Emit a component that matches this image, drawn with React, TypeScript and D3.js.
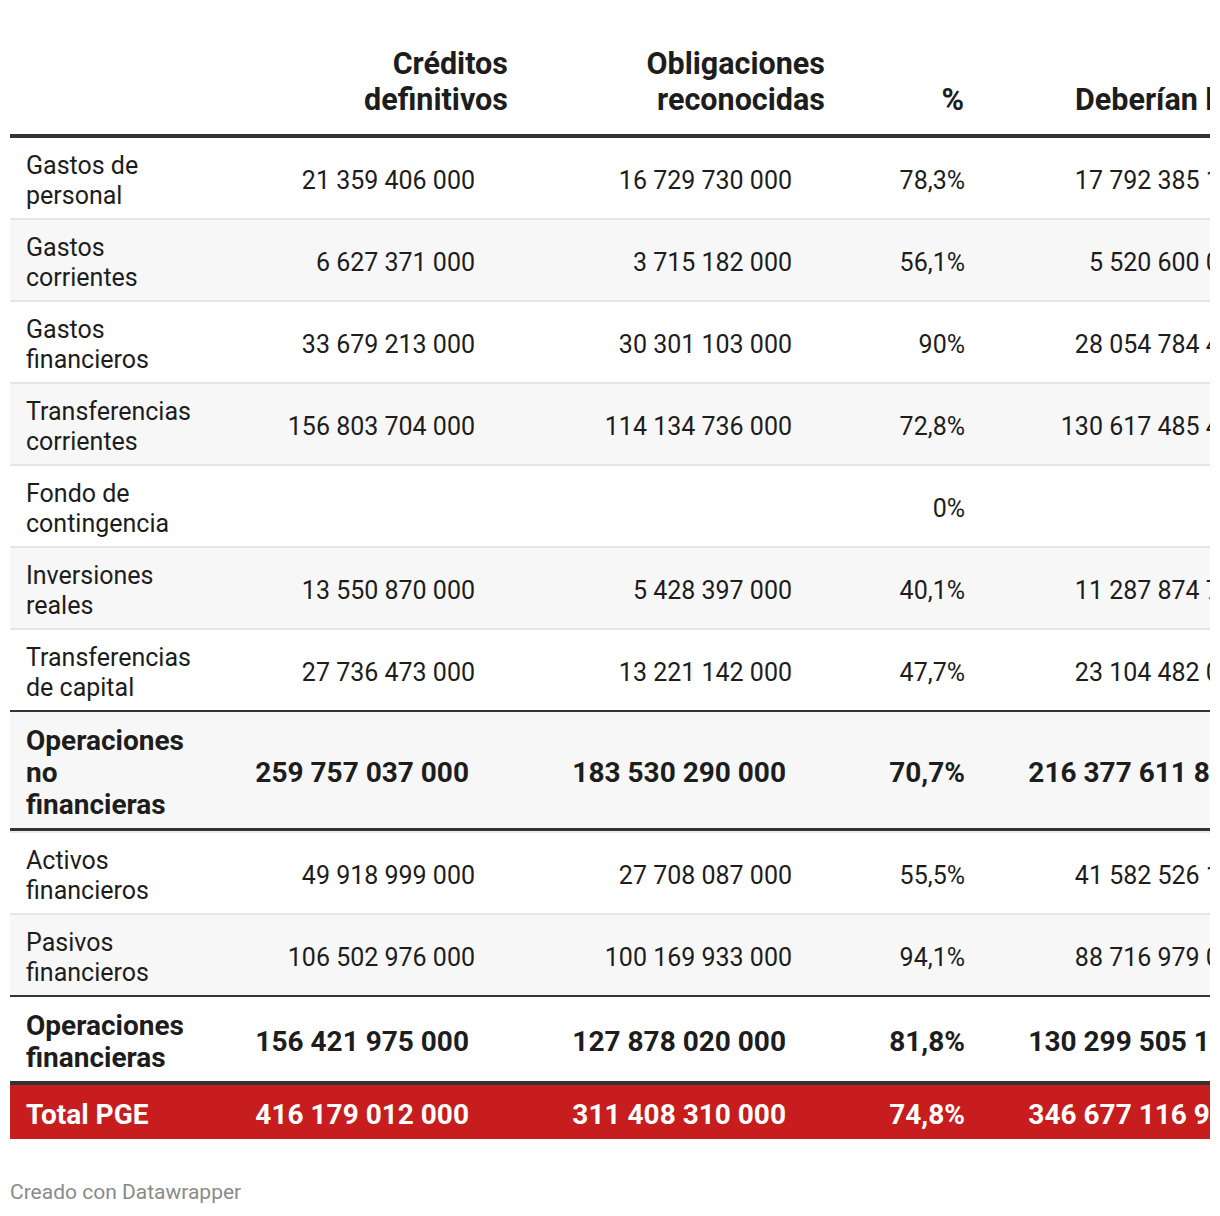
import { useEffect } from 'react';
import * as d3 from 'd3';

// Table data (euros)
const categories = [
  'Gastos de personal',
  'Gastos corrientes',
  'Gastos financieros',
  'Transferencias corrientes',
  'Fondo de contingencia',
  'Inversiones reales',
  'Transferencias de capital',
  'Operaciones no financieras',
  'Activos financieros',
  'Pasivos financieros',
  'Operaciones financieras',
  'Total PGE',
];
const rowKinds = ['item', 'item', 'item', 'item', 'item', 'item', 'item', 'sum', 'item', 'item', 'sum', 'total'];

const creditos = [21359406000, 6627371000, 33679213000, 156803704000, null, 13550870000, 27736473000, 259757037000, 49918999000, 106502976000, 156421975000, 416179012000];
const obligaciones = [16729730000, 3715182000, 30301103000, 114134736000, null, 5428397000, 13221142000, 183530290000, 27708087000, 100169933000, 127878020000, 311408310000];
const porcentaje = [78.3, 56.1, 90, 72.8, 0, 40.1, 47.7, 70.7, 55.5, 94.1, 81.8, 74.8];
const deberian = [17792385198, 5520600043, 28054784429, 130617485432, null, 11287874710, 23104482009, 216377611821, 41582526167, 88716979008, 130299505175, 346677116996];

const headers = [['Créditos', 'definitivos'], ['Obligaciones', 'reconocidas'], ['%'], ['Deberían haberse ejecutado']];

const width = 1220;
const height = 1216;
const left = 10;
const right = 1210;
const font = 'Roboto, "Noto Sans", sans-serif';
const ink = '#1d1d1d';

const locale = d3.formatLocale({ decimal: ',', thousands: ' ', grouping: [3], currency: ['', ' €'] });
const fmtNum = locale.format(',.0f');
const fmtPct = locale.format('.1~f');

// column anchors: header right edge, value right edge (regular / bold)
const headRight = [508, 825, 964, null];
const headStart = [null, null, null, 1075];
const valRight = [475, 792, 965, 1248];
const valRightBold = [469, 786, 965, 1242];

let ctx: CanvasRenderingContext2D | null = null;
function wrap(text: string, size: number, bold: boolean, maxW: number) {
  if (!ctx) ctx = document.createElement('canvas').getContext('2d');
  ctx!.font = `${bold ? 'bold ' : ''}${size}px ${font}`;
  const words = text.split(' ');
  const lines: string[] = [];
  let cur = '';
  words.forEach(w => {
    const t = cur ? cur + ' ' + w : w;
    if (cur && ctx!.measureText(t).width > maxW) {
      lines.push(cur);
      cur = w;
    } else cur = t;
  });
  if (cur) lines.push(cur);
  return lines;
}

export default function App() {
  useEffect(() => {
    document.body.style.margin = '0';
  }, []);

  const normalSize = 25;
  const boldSize = 28;
  const headSize = 30.5;

  // layout rows
  const rows = categories.map((c, i) => {
    const kind = rowKinds[i];
    const bold = kind !== 'item';
    const size = bold ? boldSize : normalSize;
    const lines = wrap(c, size, bold, 172);
    const lh = bold ? 32 : 30;
    const h = kind === 'total' ? 54 : kind === 'sum' ? 20 + lines.length * lh : 80;
    const next = rowKinds[i + 1];
    // separators below each row: [thickness, colour]
    let seps: [number, string][] = [[2, '#e5e5e5']];
    if (next === 'total') seps = [[4, '#333333']];
    else if (kind === 'sum') seps = [[3, '#333333'], [2, '#ececec']];
    else if (next === 'sum') seps = [[2, '#333333']];
    if (!next) seps = [];
    const sepW = d3.sum(seps, s => s[0]);
    return { i, kind, bold, size, lines, lh, h, seps, sepW };
  });
  const tops = d3.cumsum([138, ...rows.map(r => r.h + r.sepW)]);

  const values = (i: number) => [
    creditos[i] == null ? '' : fmtNum(creditos[i] as number),
    obligaciones[i] == null ? '' : fmtNum(obligaciones[i] as number),
    fmtPct(porcentaje[i]) + '%',
    deberian[i] == null ? '' : fmtNum(deberian[i] as number),
  ];

  return (
    <svg width={width} height={height} style={{ display: 'block' }} fontFamily={font}>
      <defs>
        <clipPath id="tbl">
          <rect x={left} y={0} width={right - left} height={height} />
        </clipPath>
      </defs>
      <rect width={width} height={height} fill="#ffffff" />
      <g clipPath="url(#tbl)">
        {/* header */}
        {headers.map((h, j) =>
          h.map((line, k) => {
            const y = 110 - (h.length - 1 - k) * 36;
            return headRight[j] != null ? (
              <text key={`h${j}${k}`} x={headRight[j] as number} y={y} textAnchor="end" fontWeight="bold" fontSize={headSize} fill={ink}>
                {line}
              </text>
            ) : (
              <text key={`h${j}${k}`} x={headStart[j] as number} y={y} textAnchor="start" fontWeight="bold" fontSize={headSize} fill={ink}>
                {line}
              </text>
            );
          })
        )}
        <rect x={left} y={134} width={right - left} height={4} fill="#333333" />

        {rows.map(r => {
          const y0 = tops[r.i];
          const cy = y0 + r.h / 2 + 2;
          const fill = r.kind === 'total' ? '#c71d1e' : r.i % 2 === 1 ? '#f7f7f7' : '#ffffff';
          const color = r.kind === 'total' ? '#ffffff' : ink;
          const vals = values(r.i);
          const n = r.lines.length;
          const sepTops = d3.cumsum([y0 + r.h, ...r.seps.map(s => s[0])]);
          return (
            <g key={r.i}>
              <rect x={left} y={y0} width={right - left} height={r.h} fill={fill} />
              {r.seps.map((s, k) => (
                <rect key={`s${k}`} x={left} y={sepTops[k]} width={right - left} height={s[0]} fill={s[1]} />
              ))}
              {r.lines.map((l, k) => (
                <text
                  key={k}
                  x={26}
                  y={cy + (k - (n - 1) / 2) * r.lh}
                  dy="0.36em"
                  fontSize={r.size}
                  fontWeight={r.bold ? 'bold' : 'normal'}
                  fill={color}
                >
                  {l}
                </text>
              ))}
              {vals.map((v, j) => (
                <text
                  key={`v${j}`}
                  x={r.bold ? valRightBold[j] : valRight[j]}
                  y={cy}
                  dy="0.36em"
                  textAnchor="end"
                  fontSize={r.size}
                  fontWeight={r.bold ? 'bold' : 'normal'}
                  fill={color}
                >
                  {v}
                </text>
              ))}
            </g>
          );
        })}
      </g>
      <text x={10} y={1199} fontSize={21} fill="#8a8a8a">
        Creado con Datawrapper
      </text>
    </svg>
  );
}
